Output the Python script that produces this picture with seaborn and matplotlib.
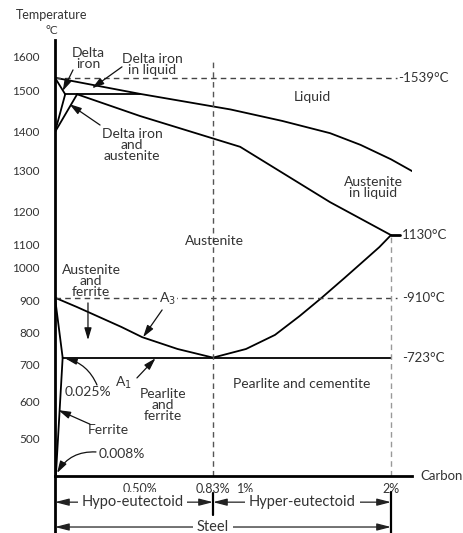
import numpy as np
import pandas as pd
import matplotlib
matplotlib.use("Agg")
import matplotlib.pyplot as plt
import seaborn as sns

# phase boundaries (carbon %, temperature °C)
liquidus_c = [0, 0.5, 0.92, 1.25, 1.58, 1.79, 2.0, 2.22]
liquidus_t = [1539, 1493, 1455, 1427, 1397, 1367, 1330, 1285]
solidus_c = [0.13, 0.5, 0.97, 1.58, 2.0]
solidus_t = [1492, 1439, 1362, 1224, 1130]
delta_solidus_c = [0, 0.06]
delta_solidus_t = [1539, 1492]
peritectic_c = [0.06, 0.5]
peritectic_t = [1492, 1492]
delta_c = [0, 0.06]
delta_t = [1400, 1492]
gamma_delta_c = [0, 0.13]
gamma_delta_t = [1400, 1492]
a3_c = [0, 0.13, 0.26, 0.39, 0.51, 0.67, 0.83]
a3_t = [910, 881, 850, 819, 787, 750, 723]
acm_c = [0.83, 1.0, 1.2, 1.37, 1.52, 1.68, 1.82, 1.92, 2.0]
acm_t = [723, 750, 794, 853, 909, 970, 1035, 1091, 1130]
ferrite_c = [0, 0.045]
ferrite_t = [910, 723]
solvus_c = [0.045, 0.005]
solvus_t = [723, 400]
eutectoid_c = [0.045, 2.0]
eutectoid_t = [723, 723]

y_ticks = [500, 600, 700, 800, 900, 1000, 1100, 1200, 1300, 1400, 1500, 1600]
x_ticks = [0.5, 1]
x_tick_labels = ["0.50%", "1%"]
x_marks = [0.83, 2]
x_mark_labels = ["0.83%", "2%"]
levels = {"1539": 1539, "1130": 1130, "910": 910, "723": 723}

# the drawing is not to scale, so the axes follow its uneven spacing
T_KNOTS = np.array([0, 400, 500, 600, 700, 800, 900, 1000, 1100, 1200, 1300, 1400, 1500, 1600, 2000])
Y_PX = np.array([624, 476, 439, 402, 365, 333, 301, 268, 245, 212, 171, 132, 91, 57, -79])
C_KNOTS = np.array([-1, 0, 0.5, 0.83, 1, 2, 3])
X_PX = np.array([-115, 55, 140, 213, 246, 391, 536])


def y_fwd(t):
    return -np.interp(t, T_KNOTS, Y_PX)


def y_inv(v):
    return np.interp(v, -Y_PX, T_KNOTS)


def x_fwd(c):
    return np.interp(c, C_KNOTS, X_PX)


def x_inv(v):
    return np.interp(v, X_PX, C_KNOTS)


lines = {
    "liquidus": (liquidus_c, liquidus_t),
    "solidus": (solidus_c, solidus_t),
    "delta solidus": (delta_solidus_c, delta_solidus_t),
    "peritectic": (peritectic_c, peritectic_t),
    "delta": (delta_c, delta_t),
    "gamma delta": (gamma_delta_c, gamma_delta_t),
    "A3": (a3_c, a3_t),
    "Acm": (acm_c, acm_t),
    "ferrite": (ferrite_c, ferrite_t),
    "solvus": (solvus_c, solvus_t),
    "eutectoid": (eutectoid_c, eutectoid_t),
}
df = pd.concat(
    [pd.DataFrame({"carbon": c, "temp": t, "boundary": name}) for name, (c, t) in lines.items()],
    ignore_index=True,
)

sns.set_theme(style="white")
plt.rcParams["font.family"] = ["Lato", "DejaVu Sans"]
txt = "#333333"

fig = plt.figure(figsize=(4.63, 5.33), dpi=100)
ax = fig.add_axes([55 / 463, 1 - 476 / 533, 357 / 463, 436 / 533])

sns.lineplot(data=df, x="carbon", y="temp", units="boundary", estimator=None,
             sort=False, color="black", lw=1.3, legend=False, ax=ax)

ax.set_xscale("function", functions=(x_fwd, x_inv))
ax.set_yscale("function", functions=(y_fwd, y_inv))
ax.set_xlim(0, 2.145)
ax.set_ylim(400, 1650)

# dashed guide lines
ax.plot([0, 2.04], [levels["1539"]] * 2, ls=(0, (4, 3)), color="#444444", lw=1)
ax.plot([0, 2.04], [levels["910"]] * 2, ls=(0, (4, 3)), color="#444444", lw=1)
ax.plot([0.83, 0.83], [400, 1597], ls=(0, (4, 3)), color="#555555", lw=1)
ax.plot([2, 2], [400, 1130], ls=(0, (4, 3)), color="#999999", lw=1)
ax.plot([2, 2.065], [levels["1130"]] * 2, color="black", lw=2)

rt = dict(ha="left", va="center", fontsize=9.5, color=txt)
ax.text(2.05, levels["1539"], "-1539°C", **rt)
ax.text(2.075, levels["1130"], "1130°C", **rt)
ax.text(2.075, levels["910"], "-910°C", **rt)
ax.text(2.075, levels["723"], "-723°C", **rt)

# axes
sns.despine(ax=ax)
for s in ["left", "bottom"]:
    ax.spines[s].set_linewidth(2)
    ax.spines[s].set_color("black")
ax.set_yticks(y_ticks, labels=[str(v) for v in y_ticks])
ax.set_xticks(x_ticks, labels=x_tick_labels)
ax.set_xticks(x_marks, labels=x_mark_labels, minor=True)
ax.tick_params(axis="y", direction="in", length=6, width=1.4, pad=11,
               labelsize=8.5, labelcolor=txt, color="black")
ax.tick_params(axis="x", which="major", direction="in", length=5, width=1.4, pad=5,
               labelsize=9, labelcolor=txt, color="black")
ax.tick_params(axis="x", which="minor", length=0, pad=5, labelsize=9, labelcolor=txt)
ax.set_xlabel("")
ax.set_ylabel("")

fig.text(52 / 463, 1 - 15 / 533, "Temperature", ha="center", va="center", fontsize=9, color=txt)
fig.text(52 / 463, 1 - 31 / 533, "°C", ha="center", va="center", fontsize=8.5, color=txt)
ax.text(2.2, 400, "Carbon", ha="left", va="center", fontsize=9.5, color=txt)

# region labels
lab = dict(ha="center", va="center", fontsize=10, color=txt, linespacing=0.9)
ax.text(0.194, 1597, "Delta\niron", **lab)
ax.text(0.554, 1579, "Delta iron\nin liquid", **lab)
ax.text(0.453, 1367, "Delta iron\nand\naustenite", **lab)
ax.text(1.46, 1485, "Liquid", **lab)
ax.text(1.876, 1259, "Austenite\nin liquid", **lab)
ax.text(0.835, 1112, "Austenite", **lab)
ax.text(0.212, 961, "Austenite\nand\nferrite", **lab)
ax.text(0.622, 906, "A$_3$", bbox=dict(fc="white", ec="none", pad=1), **lab)
ax.text(0.40, 651, "A$_1$", **lab)
ax.text(0.194, 627, "0.025%", **lab)
ax.text(0.604, 592, "Pearlite\nand\nferrite", **lab)
ax.text(1.386, 649, "Pearlite and cementite", **lab)
ax.text(0.312, 524, "Ferrite", **lab)
ax.text(0.394, 459, "0.008%", **lab)


def pointer(tip, start, rad=0.0):
    ax.annotate("", xy=tip, xytext=start,
                arrowprops=dict(arrowstyle="-|>,head_length=0.6,head_width=0.18",
                                color="#111111", lw=0.9, shrinkA=0, shrinkB=0,
                                mutation_scale=12, connectionstyle=f"arc3,rad={rad}"))


pointer((0.045, 1500), (0.106, 1562))
pointer((0.218, 1508), (0.394, 1571))
pointer((0.085, 1468), (0.265, 1417))
pointer((0.194, 778), (0.194, 894))
pointer((0.514, 787), (0.60, 872))
pointer((0.57, 721), (0.482, 665))
pointer((0.059, 721), (0.247, 646), rad=0.25)
pointer((0.02, 578), (0.206, 540))
pointer((0.012, 408), (0.241, 465), rad=0.3)

# composition ranges below the axis
tr = ax.get_xaxis_transform()
rng = dict(arrowstyle="<|-|>,head_length=0.7,head_width=0.18", color="#222222",
           lw=0.9, shrinkA=0, shrinkB=0, mutation_scale=12)
box = dict(fc="white", ec="none", boxstyle="square,pad=0.25")
ax.annotate("", xy=(0, -0.06), xytext=(0.83, -0.06), xycoords=tr, textcoords=tr,
            arrowprops=rng, annotation_clip=False)
ax.annotate("", xy=(0.83, -0.06), xytext=(2, -0.06), xycoords=tr, textcoords=tr,
            arrowprops=rng, annotation_clip=False)
ax.annotate("", xy=(0, -0.117), xytext=(2, -0.117), xycoords=tr, textcoords=tr,
            arrowprops=rng, annotation_clip=False)
low = dict(transform=tr, ha="center", va="center", fontsize=10.5, color=txt, bbox=box)
ax.text(0.457, -0.06, "Hypo-eutectoid", **low)
ax.text(1.39, -0.06, "Hyper-eutectoid", **low)
ax.text(0.83, -0.117, "Steel", **low)
ax.plot([0.83, 0.83], [-0.039, -0.09], transform=tr, clip_on=False, color="black", lw=1.6)
ax.plot([2, 2], [-0.037, -0.14], transform=tr, clip_on=False, color="black", lw=1.6)
ax.plot([0, 0], [0, -0.14], transform=tr, clip_on=False, color="black", lw=2)

fig.savefig("out.png", dpi=100)
